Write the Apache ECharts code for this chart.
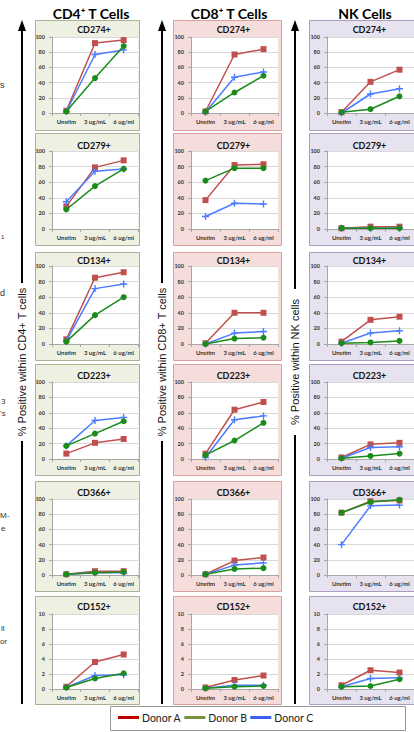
<!DOCTYPE html>
<html>
<head>
<meta charset="utf-8">
<script src="https://cdn.jsdelivr.net/npm/echarts@6/dist/echarts.min.js"></script>
<style>
html,body{margin:0;padding:0;background:#fff;}
#chart{width:414px;height:732px;}
</style>
</head>
<body>
<div id="chart"></div>
<script>
// ---------- DATA ----------
const categories = ['Unstim', '3 ug/mL', '6 ug/ml'];
const markers = ['CD274+', 'CD279+', 'CD134+', 'CD223+', 'CD366+', 'CD152+'];
const cellTypes = ['CD4\u207A T Cells', 'CD8\u207A T Cells', 'NK Cells'];
const axisNames = ['% Positive within CD4+ T cells', '% Positive within CD8+ T cells', '% Positive within NK cells'];
const donors = ['Donor A', 'Donor B', 'Donor C'];
const yMax = [100, 100, 100, 100, 100, 10];
const yStep = [20, 20, 20, 20, 20, 2];
const sideFragments = ['s', '1', 'd', '3', '\u2019s', 'M-', 'e', 'll', 'or'];

// rows follow the markers order
const cd4A = [[3, 92, 96], [29, 79, 88], [6, 85, 92], [7, 21, 26], [1, 5, 5], [0.3, 3.6, 4.6]];
const cd4B = [[2, 46, 88], [25, 55, 77], [3, 37, 60], [17, 33, 49], [1, 3, 4], [0.2, 1.4, 2.1]];
const cd4C = [[2, 77, 83], [35, 74, 77], [4, 71, 77], [17, 50, 54], [1, 3, 3], [0.2, 1.8, 1.9]];
const cd8A = [[2, 77, 84], [37, 82, 83], [1, 40, 40], [7, 64, 74], [1, 19, 23], [0.2, 1.2, 1.8]];
const cd8B = [[2, 27, 49], [62, 78, 78], [0, 7, 8], [5, 24, 47], [1, 8, 9], [0.1, 0.3, 0.4]];
const cd8C = [[1, 47, 54], [16, 33, 32], [0, 14, 16], [2, 51, 56], [1, 13, 16], [0.1, 0.5, 0.5]];
const nkA = [[1, 41, 57], [1, 3, 3], [3, 31, 35], [2, 19, 21], [82, 97, 98], [0.5, 2.5, 2.2]];
const nkB = [[1, 5, 22], [1, 1, 1], [1, 2, 4], [1, 4, 7], [82, 96, 99], [0.3, 0.4, 1.3]];
const nkC = [[0, 25, 32], [1, 1, 1], [1, 14, 17], [1, 15, 16], [40, 91, 92], [0.3, 1.4, 1.5]];

// ---------- LAYOUT / STYLE ----------
const columnData = [[cd4A, cd4B, cd4C], [cd8A, cd8B, cd8C], [nkA, nkB, nkC]];
const colLayout = [
  {panelX: 35, panelW: 104, gridL: 52, gridW: 86, head: 91, axisX: 22},
  {panelX: 173, panelW: 108, gridL: 191, gridW: 87, head: 229, axisX: 162},
  {panelX: 309, panelW: 112, gridL: 327, gridW: 87, head: 365, axisX: 295}
];
const rowLayout = [
  {panelY: 20, panelH: 110, gridT: 37, gridH: 76, titleY: 29},
  {panelY: 133, panelH: 112, gridT: 151, gridH: 78, titleY: 145},
  {panelY: 252, panelH: 108, gridT: 266, gridH: 78, titleY: 260},
  {panelY: 364, panelH: 111, gridT: 382, gridH: 77, titleY: 375},
  {panelY: 481, panelH: 110, gridT: 499, gridH: 76, titleY: 492},
  {panelY: 596, panelH: 108, gridT: 614, gridH: 75, titleY: 606}
];
const panelFill = ['#EEF1E2', '#F5DDDC', '#E7E2EF'];
const panelStroke = ['#A9B296', '#D9A09E', '#A99DC2'];
const seriesColor = ['#C0504D', '#1A8C1A', '#4D7CFF'];
const legendColor = ['#C00000', '#76933C', '#3D5EF5'];
const plusPath = 'path://M4,0h2v4h4v2h-4v4h-2v-4h-4v-2h4z';
const seriesSymbol = ['rect', 'circle', plusPath];
const seriesSymbolSize = [6, 6, 7];
const drawOrder = [0, 2, 1];
const fragPos = [[0, 85, 9], [1, 237, 6], [0, 293, 9], [1, 401, 8], [0, 413, 8], [0, 515, 8], [1, 528, 8], [1, 628, 8], [0, 641, 8]];
const axisBreak = [[283, 441], [283, 441], [289, 435]];

const FONT = 'Lato, "Liberation Sans", sans-serif';

const grids = [], xAxes = [], yAxes = [], series = [], gfx = [];

// panel backgrounds + titles
colLayout.forEach((c, ci) => {
  rowLayout.forEach((r, ri) => {
    gfx.push({type: 'rect', z: -10, silent: true,
      shape: {x: c.panelX + 0.5, y: r.panelY + 0.5, width: c.panelW, height: r.panelH},
      style: {fill: panelFill[ci], stroke: panelStroke[ci], lineWidth: 1}});
    gfx.push({type: 'text', x: c.gridL + c.gridW / 2 - 1, y: r.titleY,
      style: {text: markers[ri], align: 'center', verticalAlign: 'middle',
        font: 'bold 9px ' + FONT, fill: '#111'}});
  });
  // column header
  gfx.push({type: 'text', x: c.head, y: 13,
    style: {text: cellTypes[ci], align: 'center', verticalAlign: 'middle',
      font: 'bold 14px ' + FONT, fill: '#000'}});
  // vertical axis name with arrow line
  const ax = c.axisX;
  gfx.push({type: 'line', shape: {x1: ax, y1: 29, x2: ax, y2: axisBreak[ci][0]}, style: {stroke: '#000', lineWidth: 2}});
  gfx.push({type: 'line', shape: {x1: ax, y1: axisBreak[ci][1], x2: ax, y2: 704}, style: {stroke: '#000', lineWidth: 2}});
  gfx.push({type: 'polygon', shape: {points: [[ax, 20], [ax - 4, 31], [ax + 4, 31]]}, style: {fill: '#000'}});
  gfx.push({type: 'text', x: ax, y: (axisBreak[ci][0] + axisBreak[ci][1]) / 2, rotation: Math.PI / 2,
    style: {text: axisNames[ci], align: 'center', verticalAlign: 'middle',
      font: '11px "Liberation Sans", Arial, sans-serif', fill: '#111'}});
});

// cut-off text fragments at the left edge
sideFragments.forEach((t, i) => {
  gfx.push({type: 'text', x: fragPos[i][0], y: fragPos[i][1],
    style: {text: t, align: 'left', verticalAlign: 'middle', font: fragPos[i][2] + 'px "Liberation Sans", sans-serif', fill: '#333'}});
});

// legend box
gfx.push({type: 'rect', z: -10, shape: {x: 110.5, y: 706.5, width: 295, height: 24},
  style: {fill: '#fff', stroke: '#999', lineWidth: 1}});

// grids, axes, series
let idx = 0;
rowLayout.forEach((r, ri) => {
  colLayout.forEach((c, ci) => {
    grids.push({left: c.gridL, top: r.gridT, width: c.gridW, height: r.gridH,
      show: true, backgroundColor: '#fff', borderWidth: 0, containLabel: false});
    xAxes.push({type: 'category', gridIndex: idx, data: categories, boundaryGap: true,
      axisLine: {lineStyle: {color: '#A6A6A6', width: 1}},
      axisTick: {show: true, length: 3, lineStyle: {color: '#A6A6A6'}},
      axisLabel: {interval: 0, fontSize: 6, fontWeight: 'bold', color: '#333', margin: 5, fontFamily: FONT}});
    yAxes.push({type: 'value', gridIndex: idx, min: 0, max: yMax[ri], interval: yStep[ri],
      axisLine: {show: true, lineStyle: {color: '#A6A6A6', width: 1}},
      axisTick: {show: true, length: 3, lineStyle: {color: '#A6A6A6'}},
      axisLabel: {fontSize: 5.5, fontWeight: 'bold', color: '#333', margin: 7, fontFamily: FONT},
      splitLine: {show: true, lineStyle: {color: '#D9D9D9', width: 1}}});
    drawOrder.forEach((d, k) => {
      series.push({type: 'line', name: donors[d], xAxisIndex: idx, yAxisIndex: idx,
        data: columnData[ci][d][ri], z: 2 + k,
        symbol: seriesSymbol[d], symbolSize: seriesSymbolSize[d], showSymbol: true,
        itemStyle: {color: seriesColor[d]},
        lineStyle: {color: seriesColor[d], width: 1.5},
        animation: false, silent: true});
    });
    idx++;
  });
});

const chart = echarts.init(document.getElementById('chart'), null, {renderer: 'svg'});
chart.setOption({
  backgroundColor: '#fff',
  animation: false,
  grid: grids,
  xAxis: xAxes,
  yAxis: yAxes,
  series: series,
  legend: {
    data: donors.map((d, i) => ({name: d, icon: 'rect', itemStyle: {color: legendColor[i]}})),
    left: 118, top: 712, itemWidth: 21, itemHeight: 3, itemGap: 3, selectedMode: false,
    padding: 0,
    textStyle: {fontSize: 10.5, fontFamily: FONT, color: '#222', padding: [0, 0, 0, -2]}
  },
  graphic: {elements: gfx}
});
</script>
</body>
</html>
